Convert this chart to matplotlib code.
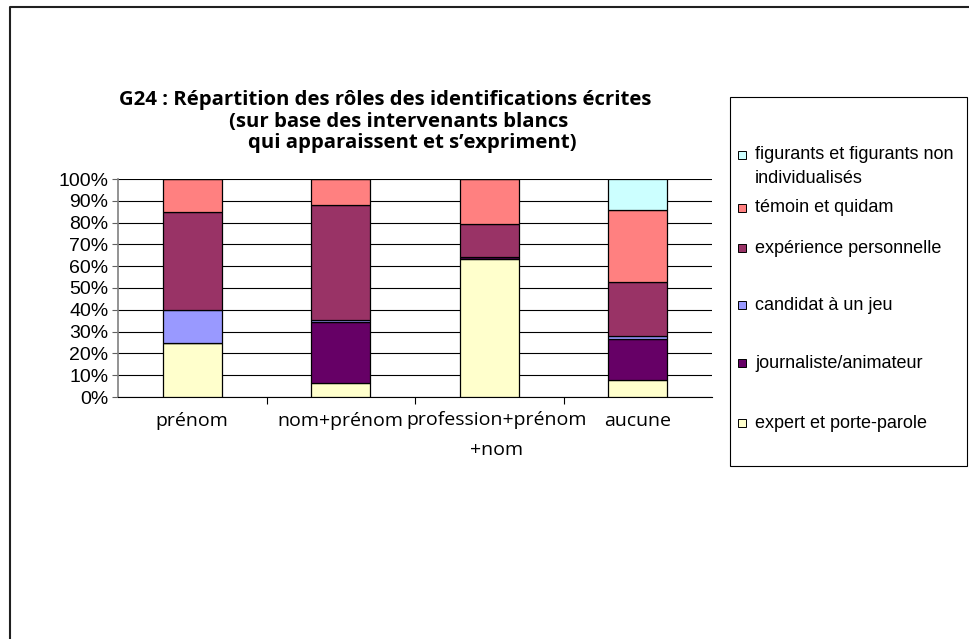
import matplotlib.pyplot as plt
from matplotlib.patches import Rectangle
from matplotlib.lines import Line2D
from matplotlib.ticker import MultipleLocator, PercentFormatter

# data (percent of each category)
categories = ["prénom", "nom+prénom", "profession+prénom\n+nom", "aucune"]
series_names = ["expert et porte-parole", "journaliste/animateur", "candidat à un jeu",
                "expérience personnelle", "témoin et quidam",
                "figurants et figurants non\nindividualisés"]
expert = [25.0, 6.6, 63.2, 8.0]
journaliste = [0.0, 27.8, 0.9, 18.4]
candidat = [15.0, 0.8, 0.0, 1.5]
experience = [45.0, 53.0, 15.3, 25.0]
temoin = [15.0, 11.8, 20.6, 33.0]
figurants = [0.0, 0.0, 0.0, 14.1]
colors = ["#FFFFCC", "#660066", "#9999FF", "#993366", "#FF8080", "#CCFFFF"]

values = [expert, journaliste, candidat, experience, temoin, figurants]

W, H = 969, 639
fig = plt.figure(figsize=(W / 100, H / 100), dpi=100)
ax = fig.add_axes([118 / W, 1 - 397 / H, (712 - 118) / W, (397 - 179) / H])

x = list(range(len(categories)))
bottom = [0.0] * len(categories)
for vals, col in zip(values, colors):
    ax.bar(x, vals, width=0.4, bottom=bottom, color=col, edgecolor="black",
           linewidth=0.9, zorder=3)
    bottom = [b + v for b, v in zip(bottom, vals)]

ax.set_xlim(-0.5, len(categories) - 0.5)
ax.set_ylim(0, 100)
ax.yaxis.set_major_locator(MultipleLocator(10))
ax.yaxis.set_major_formatter(PercentFormatter(decimals=0))
ax.grid(axis="y", color="black", linewidth=0.8, zorder=0)
for s in ["top", "right"]:
    ax.spines[s].set_visible(False)
ax.spines["left"].set_color("#808080")
ax.spines["left"].set_linewidth(1.2)
ax.spines["bottom"].set_color("black")

ax.set_xticks([i + 0.5 for i in x[:-1]])
ax.set_xticklabels([])
ax.tick_params(axis="x", length=5, direction="out")
ax.tick_params(axis="y", length=4, direction="out", labelsize=14, pad=3, color="#606060")
for lbl in ax.get_yticklabels():
    lbl.set_fontfamily("Liberation Sans")

# category labels below the axis
for i, c in enumerate(categories):
    if "\n" in c:
        ax.text(i + 0.05, -6.5, c, ha="center", va="top", fontsize=14,
                family="Open Sans", linespacing=1.85)
    else:
        ax.text(i, -10.8, c, ha="center", va="center", fontsize=14, family="Open Sans")

# title
title_lines = ["G24 : Répartition des rôles des identifications écrites",
               "(sur base des intervenants blancs",
               "qui apparaissent et s’expriment)"]
title_x = [385, 399, 412]
title_y = [100, 122, 143]
for t, tx, ty in zip(title_lines, title_x, title_y):
    fig.text(tx / W, 1 - ty / H, t, ha="center", va="center", fontsize=14.7,
             fontweight="bold", family="Open Sans")

# legend box drawn by hand to follow the original spacing
fig.patches.append(Rectangle((730 / W, 1 - 466 / H), (967 - 730) / W, (466 - 97) / H,
                             transform=fig.transFigure, fill=False,
                             edgecolor="black", linewidth=0.8))
legend_y = [155, 208, 248, 305, 363, 423]
for name, col, ly in zip(series_names[::-1], colors[::-1], legend_y):
    fig.patches.append(Rectangle((738 / W, 1 - (ly + 4) / H), 8 / W, 8 / H,
                                 transform=fig.transFigure, facecolor=col,
                                 edgecolor="black", linewidth=0.7))
    if "\n" in name:
        fig.text(755 / W, 1 - (ly - 9) / H, name, ha="left", va="top",
                 fontsize=13, family="Liberation Sans", linespacing=1.55)
    else:
        fig.text(755 / W, 1 - ly / H, name, ha="left", va="center",
                 fontsize=13, family="Liberation Sans")

# outer frame (only the top and left edges fall inside the picture)
fig.lines.append(Line2D([10 / W, 10 / W, 1], [0, 1 - 6.5 / H, 1 - 6.5 / H],
                        transform=fig.transFigure, color="#202020", linewidth=1.5))

fig.savefig("out.png", dpi=100)
